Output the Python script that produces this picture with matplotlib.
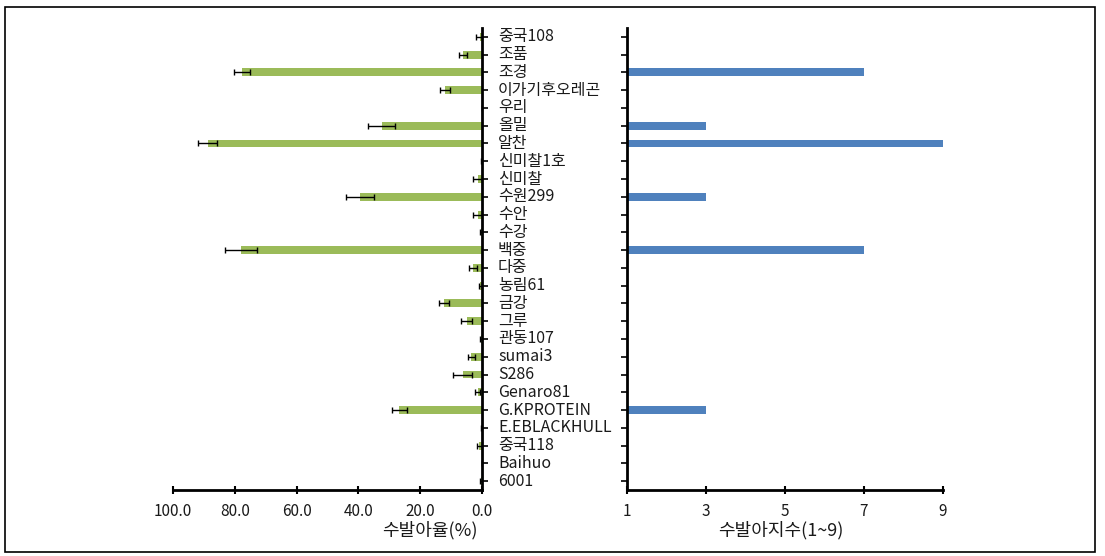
import matplotlib
matplotlib.use("Agg")
import matplotlib.pyplot as plt
import matplotlib.transforms as mtransforms
from matplotlib.patches import Rectangle
import numpy as np

plt.rcParams['font.family'] = ['Noto Sans CJK KR', 'DejaVu Sans']

varieties = ['중국108', '조품', '조경', '이가기후오레곤', '우리', '올밀', '알찬', '신미찰1호',
             '신미찰', '수원299', '수안', '수강', '백중', '다중', '농림61', '금강', '그루',
             '관동107', 'sumai3', 'S286', 'Genaro81', 'G.KPROTEIN', 'E.EBLACKHULL',
             '중국118', 'Baihuo', '6001']
sprout_rate = [0.8, 6.2, 77.7, 12.0, 0.0, 32.4, 88.7, 0.0,
               1.4, 39.5, 1.2, 0.3, 78.0, 2.8, 0.5, 12.2, 4.9,
               0.3, 3.4, 6.3, 1.4, 26.8, 0.0,
               0.9, 0.0, 0.3]
sprout_err = [1.0, 1.4, 2.7, 1.5, 0.0, 4.4, 3.1, 0.3,
              1.5, 4.4, 1.6, 0.3, 5.1, 1.3, 0.5, 1.6, 1.8,
              0.5, 1.0, 3.2, 0.8, 2.4, 0.2,
              0.8, 0.0, 0.5]
sprout_index = [1, 1, 7, 1, 1, 3, 9, 1,
                1, 3, 1, 1, 7, 1, 1, 1, 1,
                1, 1, 1, 1, 3, 1,
                1, 1, 1]
left_ticks = [100, 80, 60, 40, 20, 0]
left_ticklabels = ['100.0', '80.0', '60.0', '40.0', '20.0', '0.0']
right_ticks = [1, 3, 5, 7, 9]

green = '#9BBB59'
blue = '#4F81BD'
textc = '#1a1a1a'

fig = plt.figure(figsize=(11.05, 5.56), dpi=100)
W, H = 1105, 556


def fx(px):
    return px / W


def fy(py):
    return 1 - py / H


# outer border
fig.patches.append(Rectangle((fx(5), fy(552)), fx(1095) - fx(5), fy(7) - fy(552),
                             transform=fig.transFigure, fill=False, edgecolor='black',
                             linewidth=1.2))

top_px, bot_px = 28, 490
ax_l = fig.add_axes([fx(173), fy(bot_px), fx(482) - fx(173), fy(top_px) - fy(bot_px)])
ax_r = fig.add_axes([fx(627), fy(bot_px), fx(943) - fx(627), fy(top_px) - fy(bot_px)])

n = len(varieties)
ypos = np.arange(n)

ax_l.barh(ypos, sprout_rate, height=0.45, color=green,
          xerr=sprout_err, error_kw=dict(ecolor='black', elinewidth=1.0, capsize=2.5, capthick=1.0))
ax_l.set_xlim(100, 0)
ax_l.set_ylim(n - 0.5, -0.5)
ax_l.set_xticks(left_ticks)
ax_l.set_xticklabels(left_ticklabels, fontsize=11, color=textc)
ax_l.set_yticks(ypos)
ax_l.set_yticklabels([])
ax_l.yaxis.tick_right()
ax_l.spines['left'].set_visible(False)
ax_l.spines['top'].set_visible(False)
ax_l.spines['right'].set_linewidth(2)
ax_l.spines['bottom'].set_linewidth(2)
ax_l.tick_params(axis='y', direction='out', length=4, width=1.2, right=True, left=False)
ax_l.tick_params(axis='x', direction='inout', length=6, width=1.5, pad=6)

# x label of left panel (offset to the right, as in the original)
fig.text(fx(430), fy(530), '수발아율(%)', fontsize=13, color=textc, ha='center', va='center')

# category labels between the panels
trans = mtransforms.blended_transform_factory(fig.transFigure, ax_l.transData)
for i, name in enumerate(varieties):
    ax_l.text(fx(498), ypos[i], name, transform=trans, fontsize=11.5, va='center', ha='left',
              color=textc, clip_on=False)

ax_r.barh(ypos, [v - 1 for v in sprout_index], left=1, height=0.45, color=blue)
ax_r.set_xlim(1, 9)
ax_r.set_ylim(n - 0.5, -0.5)
ax_r.set_xticks(right_ticks)
ax_r.set_xticklabels([str(t) for t in right_ticks], fontsize=11, color=textc)
ax_r.set_yticks(ypos)
ax_r.set_yticklabels([])
ax_r.spines['right'].set_visible(False)
ax_r.spines['top'].set_visible(False)
ax_r.spines['left'].set_linewidth(2)
ax_r.spines['bottom'].set_linewidth(2)
ax_r.tick_params(axis='y', direction='out', length=4, width=1.2)
ax_r.tick_params(axis='x', direction='inout', length=6, width=1.5, pad=6)

fig.text(fx(781), fy(530), '수발아지수(1~9)', fontsize=13, color=textc, ha='center', va='center')

fig.savefig('out.png', dpi=100)
